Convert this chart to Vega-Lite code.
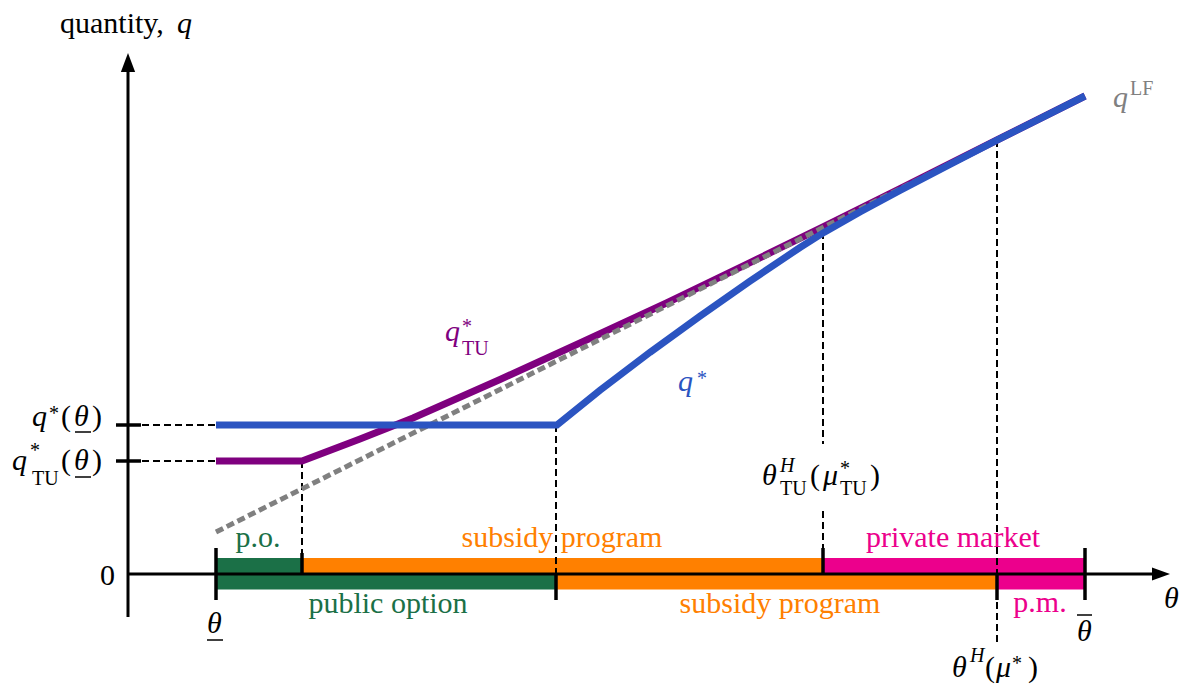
{
  "$schema": "https://vega.github.io/schema/vega-lite/v6.json",
  "width": 1180,
  "height": 689,
  "autosize": {"type": "fit", "contains": "padding"},
  "padding": 0,
  "background": "white",
  "config": {"view": {"stroke": null}},
  "datasets": {
    "segments": [
      {"kind": "axis", "t": 0, "q": -0.43, "t2": 0, "q2": 5.02},
      {"kind": "axis", "t": 0, "q": 0, "t2": 10.25, "q2": 0},
      {"kind": "tick", "t": -0.12, "q": 1.49, "t2": 0.13, "q2": 1.49},
      {"kind": "tick", "t": -0.12, "q": 1.13, "t2": 0.13, "q2": 1.13},
      {"kind": "tick", "t": 0.88, "q": 0.26, "t2": 0.88, "q2": -0.26},
      {"kind": "tick", "t": 1.74, "q": 0.21, "t2": 1.74, "q2": 0},
      {"kind": "tick", "t": 4.28, "q": 0, "t2": 4.28, "q2": -0.26},
      {"kind": "tick", "t": 6.95, "q": 0.26, "t2": 6.95, "q2": 0},
      {"kind": "tick", "t": 8.69, "q": 0, "t2": 8.69, "q2": -0.26},
      {"kind": "tick", "t": 9.57, "q": 0.26, "t2": 9.57, "q2": -0.26},
      {"kind": "dash", "t": 0.14, "q": 1.49, "t2": 0.88, "q2": 1.49},
      {"kind": "dash", "t": 0.14, "q": 1.13, "t2": 0.88, "q2": 1.13},
      {"kind": "dash", "t": 1.74, "q": 1.13, "t2": 1.74, "q2": 0.21},
      {"kind": "dash", "t": 4.28, "q": 1.49, "t2": 4.28, "q2": 0},
      {"kind": "dash", "t": 6.95, "q": 3.42, "t2": 6.95, "q2": 1.3},
      {"kind": "dash", "t": 6.95, "q": 0.63, "t2": 6.95, "q2": 0.26},
      {"kind": "dash", "t": 8.69, "q": 4.34, "t2": 8.69, "q2": -0.69},
      {"kind": "under", "t": -0.53, "q": 1.42, "t2": -0.37, "q2": 1.42},
      {"kind": "under", "t": -0.53, "q": 0.97, "t2": -0.37, "q2": 0.97},
      {"kind": "under", "t": 0.79, "q": -0.66, "t2": 0.95, "q2": -0.66},
      {"kind": "under", "t": 9.49, "q": -0.41, "t2": 9.64, "q2": -0.41}
    ],
    "bars": [
      {"t": 0.88, "t2": 1.74, "q": 0, "q2": 0.16, "c": "green"},
      {"t": 1.74, "t2": 6.95, "q": 0, "q2": 0.16, "c": "orange"},
      {"t": 6.95, "t2": 9.57, "q": 0, "q2": 0.16, "c": "magenta"},
      {"t": 0.88, "t2": 4.28, "q": -0.155, "q2": 0, "c": "green"},
      {"t": 4.28, "t2": 8.69, "q": -0.155, "q2": 0, "c": "orange"},
      {"t": 8.69, "t2": 9.57, "q": -0.155, "q2": 0, "c": "magenta"}
    ],
    "curves": [
      {"s": "TU", "t": 0.88, "q": 1.13},
      {"s": "TU", "t": 1.74, "q": 1.13},
      {"s": "TU", "t": 2.32, "q": 1.35},
      {"s": "TU", "t": 2.85, "q": 1.56},
      {"s": "TU", "t": 3.72, "q": 1.945},
      {"s": "TU", "t": 4.52, "q": 2.31},
      {"s": "TU", "t": 5.39, "q": 2.713},
      {"s": "TU", "t": 6.22, "q": 3.114},
      {"s": "TU", "t": 6.95, "q": 3.47},
      {"s": "TU", "t": 7.72, "q": 3.854},
      {"s": "TU", "t": 8.69, "q": 4.34},
      {"s": "TU", "t": 9.57, "q": 4.78},
      {"s": "LF", "t": 0.88, "q": 0.42},
      {"s": "LF", "t": 9.57, "q": 4.78},
      {"s": "star", "t": 0.88, "q": 1.49},
      {"s": "star", "t": 4.29, "q": 1.49},
      {"s": "star", "t": 4.72, "q": 1.837},
      {"s": "star", "t": 5.22, "q": 2.217},
      {"s": "star", "t": 5.72, "q": 2.578},
      {"s": "star", "t": 6.22, "q": 2.929},
      {"s": "star", "t": 6.72, "q": 3.265},
      {"s": "star", "t": 6.96, "q": 3.416},
      {"s": "star", "t": 7.32, "q": 3.621},
      {"s": "star", "t": 7.72, "q": 3.837},
      {"s": "star", "t": 8.22, "q": 4.097},
      {"s": "star", "t": 8.7, "q": 4.343},
      {"s": "star", "t": 9.12, "q": 4.554},
      {"s": "star", "t": 9.57, "q": 4.78}
    ],
    "arrows": [
      {"dir": "up", "t": 0, "q": 5.115},
      {"dir": "right", "t": 10.33, "q": 0}
    ],
    "textBig": [
      {"label": "quantity,", "t": -0.68, "q": 5.41, "c": "black"},
      {"label": "0", "t": -0.28, "q": -0.11, "c": "black"},
      {"label": "(", "t": -0.67, "q": 1.48, "c": "black"},
      {"label": ")", "t": -0.36, "q": 1.48, "c": "black"},
      {"label": "(", "t": -0.67, "q": 1.04, "c": "black"},
      {"label": ")", "t": -0.36, "q": 1.04, "c": "black"},
      {"label": "(", "t": 6.82, "q": 0.89, "c": "black"},
      {"label": ")", "t": 7.42, "q": 0.89, "c": "black"},
      {"label": "(", "t": 8.57, "q": -1.03, "c": "black"},
      {"label": ")", "t": 9.0, "q": -1.03, "c": "black"}
    ],
    "textBigItalic": [
      {"label": "q", "t": 0.49, "q": 5.41, "c": "black"},
      {"label": "q", "t": -0.96, "q": 1.48, "c": "black"},
      {"label": "θ", "t": -0.54, "q": 1.48, "c": "black"},
      {"label": "q", "t": -1.16, "q": 1.04, "c": "black"},
      {"label": "θ", "t": -0.54, "q": 1.04, "c": "black"},
      {"label": "θ", "t": 0.79, "q": -0.59, "c": "black"},
      {"label": "θ", "t": 9.49, "q": -0.67, "c": "black"},
      {"label": "θ", "t": 10.36, "q": -0.34, "c": "black"},
      {"label": "q", "t": 3.17, "q": 2.33, "c": "purple"},
      {"label": "q", "t": 5.5, "q": 1.83, "c": "blue"},
      {"label": "q", "t": 9.85, "q": 4.67, "c": "gray"},
      {"label": "θ", "t": 6.34, "q": 0.89, "c": "black"},
      {"label": "μ", "t": 6.95, "q": 0.89, "c": "black"},
      {"label": "θ", "t": 8.24, "q": -1.03, "c": "black"},
      {"label": "μ", "t": 8.68, "q": -1.03, "c": "black"}
    ],
    "textSmall": [
      {"label": "*", "t": -0.79, "q": 1.54, "c": "black"},
      {"label": "*", "t": -0.98, "q": 1.17, "c": "black"},
      {"label": "TU", "t": -0.96, "q": 0.89, "c": "black"},
      {"label": "*", "t": 3.34, "q": 2.41, "c": "purple"},
      {"label": "TU", "t": 3.34, "q": 2.19, "c": "purple"},
      {"label": "*", "t": 5.69, "q": 1.89, "c": "blue"},
      {"label": "LF", "t": 10.02, "q": 4.79, "c": "gray"},
      {"label": "TU", "t": 6.52, "q": 0.79, "c": "black"},
      {"label": "*", "t": 7.12, "q": 0.99, "c": "black"},
      {"label": "TU", "t": 7.12, "q": 0.79, "c": "black"},
      {"label": "*", "t": 8.84, "q": -0.96, "c": "black"}
    ],
    "textSmallItalic": [
      {"label": "H", "t": 6.52, "q": 1.02, "c": "black"},
      {"label": "H", "t": 8.42, "q": -0.88, "c": "black"}
    ],
    "barLabels": [
      {"label": "p.o.", "t": 1.3, "q": 0.27, "c": "green"},
      {"label": "subsidy program", "t": 4.34, "q": 0.27, "c": "orange"},
      {"label": "private market", "t": 8.25, "q": 0.27, "c": "magenta"},
      {"label": "public option", "t": 2.6, "q": -0.39, "c": "green"},
      {"label": "subsidy program", "t": 6.52, "q": -0.39, "c": "orange"},
      {"label": "p.m.", "t": 9.12, "q": -0.38, "c": "magenta"}
    ]
  },
  "encoding": {
    "x": {"field": "t", "type": "quantitative", "scale": {"domain": [-1.28, 10.52], "nice": false, "zero": false}, "axis": null},
    "y": {"field": "q", "type": "quantitative", "scale": {"domain": [-1.15, 5.74], "nice": false, "zero": false}, "axis": null}
  },
  "layer": [
    {
      "data": {"name": "bars"},
      "mark": {"type": "rect"},
      "encoding": {
        "x2": {"field": "t2"},
        "y2": {"field": "q2"},
        "color": {"field": "c", "type": "nominal", "scale": {"domain": ["black", "green", "orange", "magenta", "blue", "purple", "gray"], "range": ["#000000", "#1b7047", "#ff8000", "#ec008c", "#2b54c1", "#7f007f", "#808080"]}, "legend": null}
      }
    },
    {
      "data": {"name": "segments"},
      "transform": [{"filter": "datum.kind === 'dash'"}],
      "mark": {"type": "rule", "color": "black", "strokeWidth": 2, "strokeDash": [7, 4]},
      "encoding": {"x2": {"field": "t2"}, "y2": {"field": "q2"}}
    },
    {
      "data": {"name": "segments"},
      "transform": [{"filter": "datum.kind === 'axis'"}],
      "mark": {"type": "rule", "color": "black", "strokeWidth": 3},
      "encoding": {"x2": {"field": "t2"}, "y2": {"field": "q2"}}
    },
    {
      "data": {"name": "segments"},
      "transform": [{"filter": "datum.kind === 'tick'"}],
      "mark": {"type": "rule", "color": "black", "strokeWidth": 3.5},
      "encoding": {"x2": {"field": "t2"}, "y2": {"field": "q2"}}
    },
    {
      "data": {"name": "segments"},
      "transform": [{"filter": "datum.kind === 'under'"}],
      "mark": {"type": "rule", "color": "black", "strokeWidth": 1.5},
      "encoding": {"x2": {"field": "t2"}, "y2": {"field": "q2"}}
    },
    {
      "data": {"name": "arrows"},
      "transform": [{"filter": "datum.dir === 'up'"}],
      "mark": {"type": "point", "shape": "M0,-1L0.75,1L-0.75,1Z", "size": 361, "filled": true, "color": "black", "opacity": 1, "strokeWidth": 0}
    },
    {
      "data": {"name": "arrows"},
      "transform": [{"filter": "datum.dir === 'right'"}],
      "mark": {"type": "point", "shape": "M1,0L-1,0.72L-1,-0.72Z", "size": 324, "filled": true, "color": "black", "opacity": 1, "strokeWidth": 0}
    },
    {
      "data": {"name": "curves"},
      "transform": [{"filter": "datum.s === 'TU'"}],
      "mark": {"type": "line", "color": "#7f007f", "strokeWidth": 7, "strokeJoin": "miter"},
      "encoding": {"order": {"field": "t", "type": "quantitative"}}
    },
    {
      "data": {"name": "curves"},
      "transform": [{"filter": "datum.s === 'LF'"}],
      "mark": {"type": "line", "color": "#808080", "strokeWidth": 5, "strokeDash": [8, 4]},
      "encoding": {"order": {"field": "t", "type": "quantitative"}}
    },
    {
      "data": {"name": "curves"},
      "transform": [{"filter": "datum.s === 'star'"}],
      "mark": {"type": "line", "color": "#2b54c1", "strokeWidth": 7, "strokeJoin": "miter"},
      "encoding": {"order": {"field": "t", "type": "quantitative"}}
    },
    {
      "data": {"name": "textBig"},
      "mark": {"type": "text", "align": "left", "baseline": "alphabetic", "font": "Liberation Serif", "fontSize": 30},
      "encoding": {
        "text": {"field": "label"},
        "color": {"field": "c", "type": "nominal", "legend": null}
      }
    },
    {
      "data": {"name": "textBigItalic"},
      "mark": {"type": "text", "align": "left", "baseline": "alphabetic", "font": "Liberation Serif", "fontSize": 30, "fontStyle": "italic"},
      "encoding": {
        "text": {"field": "label"},
        "color": {"field": "c", "type": "nominal", "legend": null}
      }
    },
    {
      "data": {"name": "textSmall"},
      "mark": {"type": "text", "align": "left", "baseline": "alphabetic", "font": "Liberation Serif", "fontSize": 20},
      "encoding": {
        "text": {"field": "label"},
        "color": {"field": "c", "type": "nominal", "legend": null}
      }
    },
    {
      "data": {"name": "textSmallItalic"},
      "mark": {"type": "text", "align": "left", "baseline": "alphabetic", "font": "Liberation Serif", "fontSize": 20, "fontStyle": "italic"},
      "encoding": {
        "text": {"field": "label"},
        "color": {"field": "c", "type": "nominal", "legend": null}
      }
    },
    {
      "data": {"name": "barLabels"},
      "mark": {"type": "text", "align": "center", "baseline": "alphabetic", "font": "Liberation Serif", "fontSize": 30},
      "encoding": {
        "text": {"field": "label"},
        "color": {"field": "c", "type": "nominal", "legend": null}
      }
    }
  ]
}
